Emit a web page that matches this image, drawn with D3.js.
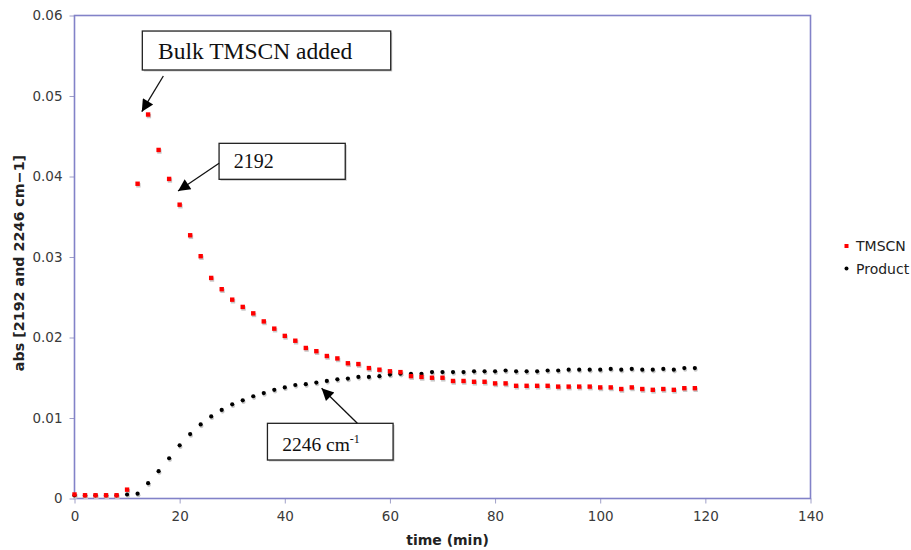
<!DOCTYPE html>
<html>
<head>
<meta charset="utf-8">
<script src="https://cdn.jsdelivr.net/npm/d3@7"></script>
<style>
  html, body { margin: 0; padding: 0; background: #fff; }
  svg { display: block; }
</style>
</head>
<body>
<svg id="chart" width="911" height="550"></svg>
<script>
// ---- Data ----
const timeMin = [0,2,4,6,8,10,12,14,16,18,20,22,24,26,28,30,32,34,36,38,40,42,44,46,48,50,52,54,56,58,
                 60,62,64,66,68,70,72,74,76,78,80,82,84,86,88,90,92,94,96,98,100,102,104,106,108,110,112,114,116,118];
const tmscn = [0.0005,0.0004,0.0004,0.0004,0.0004,0.0011,0.0391,0.0477,0.0433,0.0397,0.0365,0.0327,0.0301,0.0274,0.0260,
               0.0247,0.0238,0.0230,0.0220,0.0211,0.0202,0.0196,0.0187,0.0183,0.0177,0.0174,0.0168,0.0167,0.0162,0.0160,
               0.0158,0.0157,0.0152,0.0151,0.0150,0.0150,0.0146,0.0146,0.0145,0.0145,0.0143,0.0143,0.0140,0.0140,0.0140,
               0.0140,0.0139,0.0139,0.0139,0.0139,0.0138,0.0138,0.0136,0.0138,0.0136,0.0135,0.0136,0.0135,0.0137,0.0137];
const product = [0.0004,0.0004,0.0004,0.0004,0.0004,0.0005,0.0006,0.0019,0.0034,0.0050,0.0066,0.0080,0.0092,0.0102,0.0110,
                 0.0117,0.0122,0.0127,0.0131,0.0135,0.0138,0.0141,0.0142,0.0144,0.0146,0.0148,0.0149,0.0151,0.0151,0.0152,
                 0.0154,0.0155,0.0155,0.0155,0.0157,0.0157,0.0157,0.0157,0.0158,0.0158,0.0158,0.0159,0.0158,0.0158,0.0158,
                 0.0159,0.0159,0.0160,0.0160,0.0160,0.0160,0.0161,0.0160,0.0161,0.0160,0.0160,0.0161,0.0160,0.0162,0.0162];
const xTicks = [0,20,40,60,80,100,120,140];
const yTicks = [0,0.01,0.02,0.03,0.04,0.05,0.06];
const seriesNames = ["TMSCN","Product"];
const xLabel = "time (min)";
const yLabel = "abs [2192 and 2246 cm\u22121]";

// ---- Layout ----
const svg = d3.select("#chart");
const plot = {left: 74.5, right: 810.5, top: 15.5, bottom: 498.5};
const borderColor = "#8282c8";
const x = d3.scaleLinear().domain([0,140]).range([plot.left, plot.right]);
const y = d3.scaleLinear().domain([0,0.06]).range([plot.bottom, plot.top]);

// axes
const xAxis = d3.axisBottom(x).tickValues(xTicks).tickSize(5).tickPadding(8).tickFormat(d3.format("d"));
const yAxis = d3.axisLeft(y).tickValues(yTicks).tickSize(5).tickPadding(7).tickFormat(d => d === 0 ? "0" : d3.format(".2f")(d));

const gx = svg.append("g").attr("transform", `translate(0,${plot.bottom})`).call(xAxis);
const gy = svg.append("g").attr("transform", `translate(${plot.left},0)`).call(yAxis);
[gx, gy].forEach(g => {
  g.select(".domain").remove();
  g.selectAll(".tick line").attr("stroke", "#a0a0c8").attr("stroke-width", 1);
  g.selectAll(".tick text").attr("fill", "#3a3a3a").style("font-family", "'DejaVu Sans', Verdana, sans-serif").style("font-size", "13.5px");
});

// plot border
svg.append("rect")
  .attr("x", plot.left).attr("y", plot.top)
  .attr("width", plot.right - plot.left).attr("height", plot.bottom - plot.top)
  .attr("fill", "none").attr("stroke", borderColor).attr("stroke-width", 1.6);

// axis labels
svg.append("text").attr("x", (plot.left + plot.right) / 2 + 5).attr("y", 545)
  .attr("text-anchor", "middle").attr("fill", "#222")
  .style("font-family", "'DejaVu Sans', Verdana, sans-serif").style("font-size", "14px").style("font-weight", "bold")
  .text(xLabel);
svg.append("text").attr("transform", `translate(24,${(plot.top + plot.bottom) / 2 + 6}) rotate(-90)`)
  .attr("text-anchor", "middle").attr("fill", "#222")
  .style("font-family", "'DejaVu Sans', Verdana, sans-serif").style("font-size", "14.3px").style("font-weight", "bold")
  .text(yLabel);

// ---- Data marks ----
const rows = timeMin.map((t, i) => ({t, a: tmscn[i], b: product[i]}));
const gMarks = svg.append("g");
// shadows
gMarks.selectAll("rect.shA").data(rows).join("rect").attr("class", "shA")
  .attr("x", d => x(d.t) - 2.2 + 0.8).attr("y", d => y(d.a) - 2.2 + 1.6)
  .attr("width", 4.4).attr("height", 4.4).attr("fill", "#c8c8c8");
gMarks.selectAll("circle.shB").data(rows).join("circle").attr("class", "shB")
  .attr("cx", d => x(d.t) + 0.8).attr("cy", d => y(d.b) + 1.6).attr("r", 2.1).attr("fill", "#c8c8c8");
// Product (black)
gMarks.selectAll("circle.ptB").data(rows).join("circle").attr("class", "ptB")
  .attr("cx", d => x(d.t)).attr("cy", d => y(d.b)).attr("r", 2.1).attr("fill", "#000");
// TMSCN (red)
gMarks.selectAll("rect.ptA").data(rows).join("rect").attr("class", "ptA")
  .attr("x", d => x(d.t) - 2.2).attr("y", d => y(d.a) - 2.2)
  .attr("width", 4.4).attr("height", 4.4).attr("fill", "#ff0000");

// ---- Legend ----
const legend = svg.append("g");
const legY = [246, 268.5];
legend.append("rect").attr("x", 844.5).attr("y", legY[0] - 2).attr("width", 4).attr("height", 4).attr("fill", "#ff0000");
legend.append("circle").attr("cx", 846.5).attr("cy", legY[1]).attr("r", 2).attr("fill", "#000");
seriesNames.forEach((n, i) => {
  legend.append("text").attr("x", 856).attr("y", legY[i]).attr("dy", "0.36em").attr("fill", "#222")
    .style("font-family", "'DejaVu Sans', Verdana, sans-serif").style("font-size", "14px").text(n);
});

// ---- Annotations (data coordinates) ----
const defs = svg.append("defs");
defs.append("marker").attr("id", "ah").attr("viewBox", "0 0 10 10")
  .attr("refX", 10).attr("refY", 5).attr("markerUnits", "userSpaceOnUse")
  .attr("markerWidth", 15).attr("markerHeight", 12).attr("orient", "auto")
  .append("path").attr("d", "M0,0 L10,5 L0,10 Z").attr("fill", "#000");

const notes = [
  {box: [12.9, 0.05807, 60.15, 0.05323], tx: 15.9, ty: 0.0546, size: 23.5, text: "Bulk TMSCN added", sup: null,
   arrow: [16.9, 0.05248, 12.8, 0.04805]},
  {box: [27.5, 0.04412, 51.5, 0.03965], tx: 30.3, ty: 0.04106, size: 20, text: "2192", sup: null,
   arrow: [27.5, 0.04164, 19.7, 0.0382]},
  {box: [36.7, 0.00934, 60.6, 0.00478], tx: 39.5, ty: 0.0059, size: 19.5, text: "2246 cm", sup: "-1",
   arrow: [53.8, 0.00934, 47.0, 0.01369]}
];
const gN = svg.append("g");
notes.forEach(n => {
  gN.append("rect").attr("x", x(n.box[0]) + 1.5).attr("y", y(n.box[1]) + 1.5)
    .attr("width", x(n.box[2]) - x(n.box[0])).attr("height", y(n.box[3]) - y(n.box[1]))
    .attr("fill", "#ccc");
  gN.append("rect").attr("x", x(n.box[0])).attr("y", y(n.box[1]))
    .attr("width", x(n.box[2]) - x(n.box[0])).attr("height", y(n.box[3]) - y(n.box[1]))
    .attr("fill", "#fff").attr("stroke", "#222").attr("stroke-width", 1.3);
  const t = gN.append("text").attr("x", x(n.tx)).attr("y", y(n.ty)).attr("fill", "#111")
    .style("font-family", "'Liberation Serif', 'Times New Roman', serif").style("font-size", n.size + "px");
  t.append("tspan").text(n.text);
  if (n.sup) t.append("tspan").attr("dy", -8).style("font-size", "12px").text(n.sup);
  gN.append("line").attr("x1", x(n.arrow[0])).attr("y1", y(n.arrow[1]))
    .attr("x2", x(n.arrow[2])).attr("y2", y(n.arrow[3]))
    .attr("stroke", "#111").attr("stroke-width", 1.3).attr("marker-end", "url(#ah)");
});
</script>
</body>
</html>
